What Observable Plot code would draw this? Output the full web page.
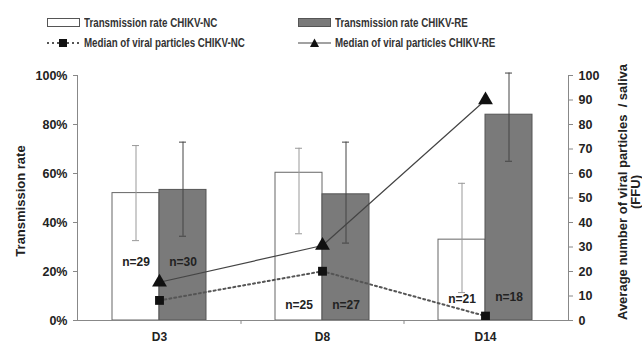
<!DOCTYPE html>
<html><head><meta charset="utf-8">
<script src="https://cdn.jsdelivr.net/npm/d3@7"></script>
<script src="https://cdn.jsdelivr.net/npm/@observablehq/plot@0.6"></script>
<style>
body{margin:0;background:#fff;font-family:"Liberation Sans",Arial,sans-serif;overflow:hidden;}
#legend{position:relative;height:55px;width:642px;font-family:"Liberation Sans",Arial,sans-serif;font-weight:bold;font-size:12.5px;color:#333;}
.it{position:absolute;display:flex;align-items:center;height:14px;white-space:nowrap;}
.it svg{margin-right:4px;flex:none;}
.it span{display:inline-block;transform:scaleX(0.78);transform-origin:left center;}
#chart svg{display:block;}
</style></head>
<body>
<div id="legend"></div>
<div id="chart"></div>
<script>
const days = ["D3", "D8", "D14"];
const rateNC = [52, 60.3, 33];
const rateRE = [53.3, 51.5, 84];
const errNCLow = [32.6, 35.4, 11.4];
const errNCHigh = [71.4, 70.3, 56];
const errRELow = [34.4, 31.6, 65];
const errREHigh = [72.8, 72.8, 101];
const medianNC = [8.2, 20.1, 1.8];
const medianRE = [15.6, 30.6, 90];
const nNC = [29, 25, 21];
const nRE = [30, 27, 18];
const nLabelYNC = [23.7, 6.1, 8.6];
const nLabelYRE = [23.7, 6.1, 9.4];
const legendLabels = ["Transmission rate CHIKV-NC", "Transmission rate CHIKV-RE", "Median of viral particles CHIKV-NC", "Median of viral particles CHIKV-RE"];
const leftTicks = [0, 20, 40, 60, 80, 100];
const rightTicks = [0, 10, 20, 30, 40, 50, 60, 70, 80, 90, 100];
const boundaryDays = ["D3", "D8"];

const rows = days.map((d, i) => ({
  day: d, rateNC: rateNC[i], rateRE: rateRE[i],
  ncLo: errNCLow[i], ncHi: errNCHigh[i], reLo: errRELow[i], reHi: errREHigh[i],
  mNC: medianNC[i], mRE: medianRE[i],
  nNC: "n=" + nNC[i], nRE: "n=" + nRE[i], yNC: nLabelYNC[i], yRE: nLabelYRE[i]
}));

// legend
const sw = {
  0: '<svg width="33" height="12"><rect x="0.5" y="1.5" width="32" height="8" fill="#fff" stroke="#555"/></svg>',
  1: '<svg width="33" height="12"><rect x="0.5" y="1.5" width="32" height="8" fill="#7a7a7a" stroke="#555"/></svg>',
  2: '<svg width="33" height="12"><line x1="0" x2="33" y1="6" y2="6" stroke="#555" stroke-width="2" stroke-dasharray="2,3"/><rect x="12" y="2" width="8" height="8" fill="#111"/></svg>',
  3: '<svg width="33" height="12"><line x1="0" x2="33" y1="6" y2="6" stroke="#444" stroke-width="1.2"/><path d="M16.5,1.5 L21,10 L12,10 Z" fill="#111"/></svg>'
};
const pos = [[47, 23], [298, 23], [47, 43], [298, 43]];
const lg = document.getElementById("legend");
legendLabels.forEach((t, i) => {
  const d = document.createElement("div");
  d.className = "it";
  d.style.left = pos[i][0] + "px";
  d.style.top = (pos[i][1] - 7) + "px";
  d.innerHTML = sw[i] + "<span>" + t + "</span>";
  lg.appendChild(d);
});

const half = 47;
const cap = 3.5;
const chart = Plot.plot({
  width: 642, height: 288,
  marginLeft: 77, marginRight: 74, marginTop: 20, marginBottom: 23,
  style: {fontFamily: "'Liberation Sans', Arial, sans-serif", fontSize: "12px", fontWeight: "bold", color: "#222"},
  x: {domain: days, paddingInner: 0.422, paddingOuter: 0.211, label: null},
  y: {domain: [0, 100], label: null},
  marks: [
    Plot.barY(rows, {x: "day", y: "rateNC", fill: "#fff", stroke: "#666", strokeWidth: 1, insetRight: half}),
    Plot.barY(rows, {x: "day", y: "rateRE", fill: "#7a7a7a", stroke: "#555", strokeWidth: 1, insetLeft: half}),
    Plot.ruleX(rows, {x: "day", y1: "ncLo", y2: "ncHi", dx: -half / 2, stroke: "#999", strokeWidth: 1}),
    Plot.tickY(rows, {x: "day", y: "ncLo", dx: -half / 2, stroke: "#999", insetLeft: 47 - cap, insetRight: 47 - cap}),
    Plot.tickY(rows, {x: "day", y: "ncHi", dx: -half / 2, stroke: "#999", insetLeft: 47 - cap, insetRight: 47 - cap}),
    Plot.ruleX(rows, {x: "day", y1: "reLo", y2: "reHi", dx: half / 2, stroke: "#444", strokeWidth: 1}),
    Plot.tickY(rows, {x: "day", y: "reLo", dx: half / 2, stroke: "#444", insetLeft: 47 - cap, insetRight: 47 - cap}),
    Plot.tickY(rows, {x: "day", y: "reHi", dx: half / 2, stroke: "#444", insetLeft: 47 - cap, insetRight: 47 - cap}),
    Plot.text(rows, {x: "day", y: "yNC", text: "nNC", dx: -half / 2, fill: "#222", fontSize: 12, fontWeight: "bold"}),
    Plot.text(rows, {x: "day", y: "yRE", text: "nRE", dx: half / 2, fill: "#222", fontSize: 12, fontWeight: "bold"}),
    Plot.lineY(rows, {x: "day", y: "mNC", stroke: "#555", strokeWidth: 2, strokeDasharray: "2,3"}),
    Plot.lineY(rows, {x: "day", y: "mRE", stroke: "#444", strokeWidth: 1.2}),
    Plot.dot(rows, {x: "day", y: "mNC", symbol: "square", fill: "#111", r: 5}),
    Plot.dot(rows, {x: "day", y: "mRE", symbol: "triangle", fill: "#111", r: 5.5}),
    Plot.ruleY([0], {stroke: "#888", strokeWidth: 1.2}),
    Plot.ruleX(boundaryDays, {x: d => d, y1: 0, y2: -1.6, dx: 81.5, stroke: "#888"}),
    Plot.axisX({tickSize: 0, tickPadding: 12, fontSize: 12, fontWeight: "bold"}),
    Plot.axisY({anchor: "left", ticks: leftTicks, tickFormat: d => d + "%", tickSize: 4, tickPadding: 6, stroke: "#888", fontSize: 12.5, label: null}),
    Plot.axisY({anchor: "right", ticks: rightTicks, tickFormat: d => d, tickSize: 4, tickPadding: 6, stroke: "#888", fontSize: 12.5, label: null}),
    Plot.frame({anchor: "left", stroke: "#888"}),
    Plot.frame({anchor: "right", stroke: "#888"}),
    Plot.text(["Transmission rate"], {frameAnchor: "left", textAnchor: "middle", dx: -57, dy: 3, rotate: -90, fontSize: 13, fontWeight: "bold", fill: "#222"}),
    Plot.text(["Average number of viral particles  / saliva"], {frameAnchor: "right", textAnchor: "middle", dx: 54, dy: -6, rotate: -90, fontSize: 13, fontWeight: "bold", fill: "#222"}),
    Plot.text(["(FFU)"], {frameAnchor: "right", textAnchor: "middle", dx: 67, dy: -6, rotate: -90, fontSize: 13, fontWeight: "bold", fill: "#222"})
  ]
});
document.getElementById("chart").appendChild(chart);
</script>
</body></html>
